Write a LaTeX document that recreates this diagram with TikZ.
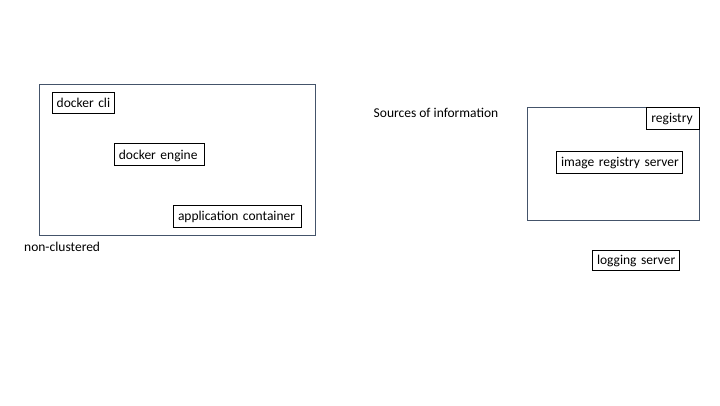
\documentclass[tikz,border=0pt]{standalone}
\usepackage{fontspec}
\setmainfont{Carlito}
\definecolor{framecol}{HTML}{44546A}
\begin{document}
\begin{tikzpicture}[x=1pt,y=-1pt,
  lbl/.style={font=\fontsize{13.5}{15}\selectfont, inner sep=0pt},
  itembox/.style={draw=black, line width=1pt, lbl, inner xsep=4.7pt, text width=#1-9.4pt, align=left, text height=9pt, text depth=0pt},
  frame/.style={draw=framecol, line width=1pt, inner sep=0pt}]
\useasboundingbox (0,0) rectangle (720,405);
\node[frame, minimum width=276pt, minimum height=151pt] (left) at (177,159.5) {};
\node[frame, minimum width=172pt, minimum height=113pt] (right) at (613.3,163.8) {};
\node[itembox=62pt, minimum height=21pt] (cli) at (83,102.8) {\mbox{docker cli}};
\node[itembox=90pt, minimum height=21.6pt] (engine) at (159.2,154.5) {\mbox{docker engine}};
\node[itembox=128.4pt, minimum height=22pt] (app) at (237.5,216.3) {\mbox{application container}};
\node[lbl, anchor=west] (noncl) at (24,247) {non-clustered};
\node[lbl, anchor=west] (src) at (373.5,113.3) {Sources of information};
\node[itembox=52.6pt, minimum height=22pt] (reg) at (673,118.3) {\mbox{registry}};
\node[itembox=126.4pt, minimum height=22.3pt] (irs) at (619.5,162.2) {\mbox{image registry server}};
\node[itembox=87.4pt, minimum height=20pt] (log) at (636,260) {\mbox{logging server}};
\end{tikzpicture}
\end{document}
